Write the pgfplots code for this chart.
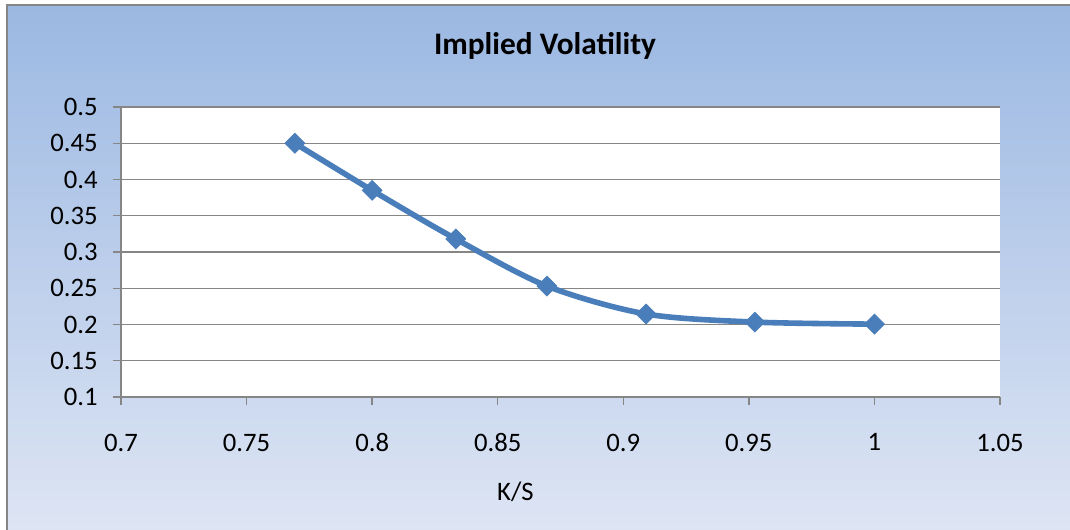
\documentclass[border=0pt]{standalone}
\usepackage{pgfplots}
\pgfplotsset{compat=1.18}
\usepackage{fontspec}
\setmainfont{Carlito}
\definecolor{bgtop}{RGB}{155,184,226}
\definecolor{bgbot}{RGB}{223,230,244}
\definecolor{ser}{RGB}{74,126,187}
\definecolor{grd}{RGB}{134,134,134}
\begin{document}
\begin{tikzpicture}
\useasboundingbox (0,0) rectangle (802.5pt,396.75pt);
\begin{scope}
\clip (0,0) rectangle (802.5pt,396.75pt);
\fill[white] (0,0) rectangle (802.5pt,396.75pt);
\shade[top color=bgtop, bottom color=bgbot] (5.25pt,-10pt) rectangle (815pt,393pt);
\draw[grd, line width=0.8pt] (5.25pt,-10pt) -- (5.25pt,393pt) -- (815pt,393pt);
\end{scope}
\begin{axis}[
  at={(90.75pt,99pt)}, anchor=south west,
  scale only axis, width=659.25pt, height=217.5pt,
  xmin=0.7, xmax=1.05, ymin=0.1, ymax=0.5,
  xtick={0.7,0.75,...,1.05}, ytick={0.1,0.15,...,0.5},
  xticklabels={0.7,0.75,0.8,0.85,0.9,0.95,1,1.05},
  yticklabels={0.1,0.15,0.2,0.25,0.3,0.35,0.4,0.45,0.5},
  axis lines=left, axis line style={-, grd, line width=1pt},
  tick align=outside, major tick length=6pt,
  tick style={grd, line width=1pt},
  ymajorgrids, major grid style={grd, line width=1pt},
  axis background/.style={fill=white},
  tick label style={font=\fontsize{20}{22}\selectfont},
  /pgf/number format/assume math mode=true,
  xticklabel style={yshift=-18pt},
  yticklabel style={xshift=-8pt},
  clip=false,
]
\addplot[ser, line width=4.2pt, smooth, mark=square*, mark size=5.3pt,
  mark options={rotate=45, fill=ser, draw=ser, line width=0.5pt}]
  coordinates {
  (0.7692,0.450) (0.8000,0.385) (0.8333,0.318) (0.8696,0.253)
  (0.9091,0.2145) (0.9524,0.2033) (1.0000,0.2005)
  };
\end{axis}
\node[font=\bfseries\fontsize{23.5}{26}\selectfont] at (408.75pt,362pt) {Implied Volatility};
\node[font=\fontsize{20}{22}\selectfont] at (386.5pt,28pt) {K/S};
\end{tikzpicture}
\end{document}
